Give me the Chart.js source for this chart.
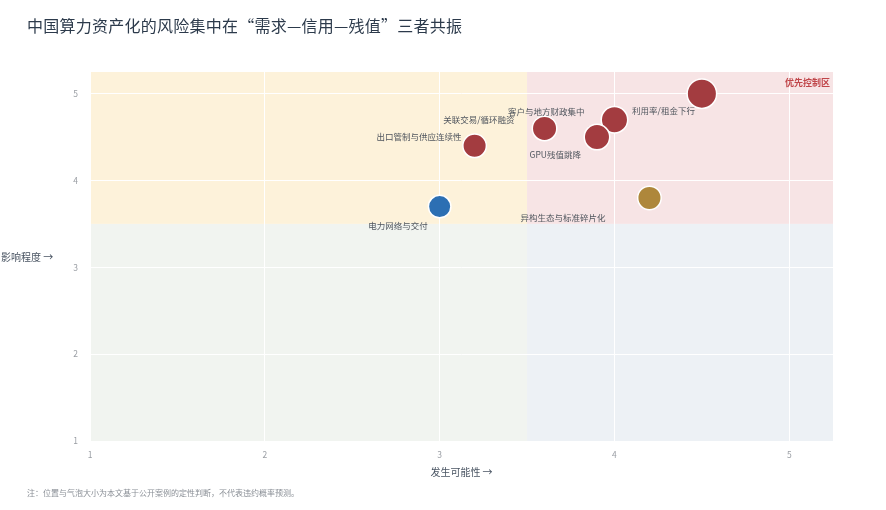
<!DOCTYPE html>
<html>
<head>
<meta charset="utf-8">
<script src="https://cdn.jsdelivr.net/npm/chart.js@4.4.1/dist/chart.umd.min.js"></script>
<style>
    body { margin: 0; background: #fff; font-family: "Noto Sans CJK SC", "Noto Sans", sans-serif; }
    #wrap { position: relative; width: 886px; height: 510px; }
    #title { position: absolute; left: 27px; top: 17px; font-size: 16px; line-height: 1; color: #2c3a4b; font-weight: 400; letter-spacing: 0.25px; }
    #note { position: absolute; left: 27px; top: 489px; font-size: 8px; line-height: 1; color: #8a8f96; }
    canvas { position: absolute; left: 0; top: 0; }
</style>
</head>
<body>
<div id="wrap">
    <canvas id="risk-chart" width="886" height="510"></canvas>
    <div id="title">中国算力资产化的风险集中在“需求—信用—残值”三者共振</div>
    <div id="note">注：位置与气泡大小为本文基于公开案例的定性判断，不代表违约概率预测。</div>
</div>
<script>
// ===================== DATA =====================

const riskNames  = ['利用率/租金下行', '客户与地方财政集中', '关联交易/循环融资', 'GPU残值跳降',
                    '出口管制与供应连续性', '异构生态与标准碎片化', '电力网络与交付'];
const likelihood = [4.5, 4.0, 3.6, 3.9, 3.2, 4.2, 3.0];
const impact     = [5.0, 4.7, 4.6, 4.5, 4.4, 3.8, 3.7];
const bubbleSize = [31, 28, 26, 27, 25, 25, 24];
const riskGroup  = ['core', 'core', 'core', 'core', 'core', 'tech', 'infra'];
const axisTicks  = [1, 2, 3, 4, 5];
const threshold  = 3.5;
const zoneLabel  = '优先控制区';
const xTitle     = '发生可能性 →';
const yTitle     = '影响程度 →';

// ===================== STYLE =====================

const FONT = '"Noto Sans CJK SC", "Noto Sans", sans-serif';
const groupColor = { core: '#a33c40', tech: '#ae873b', infra: '#2c6fb3' };
// label text: right edge offset and vertical offset from bubble centre (px)
const labelPlace = [[-7, 17], [-30, -8], [-30, -9], [-16, 18], [-13, -9], [-44, 20], [-12, 19]];

const quadrantPlugin = {
    id: 'quadrants',
    beforeDraw(chart) {
        const { ctx, chartArea: a, scales: { x, y } } = chart;
        const mx = x.getPixelForValue(threshold);
        const my = y.getPixelForValue(threshold);
        ctx.save();
        ctx.fillStyle = '#fdf2da'; ctx.fillRect(a.left, a.top, mx - a.left, my - a.top);
        ctx.fillStyle = '#f7e4e5'; ctx.fillRect(mx, a.top, a.right - mx, my - a.top);
        ctx.fillStyle = '#f1f4f0'; ctx.fillRect(a.left, my, mx - a.left, a.bottom - my);
        ctx.fillStyle = '#edf1f5'; ctx.fillRect(mx, my, a.right - mx, a.bottom - my);
        ctx.restore();
    },
    afterDatasetsDraw(chart) {
        const { ctx, chartArea: a } = chart;
        const meta = chart.getDatasetMeta(0);
        ctx.save();
        ctx.textBaseline = 'middle';

        // bubble labels
        ctx.font = '8.5px ' + FONT;
        ctx.fillStyle = '#50565e';
        ctx.textAlign = 'right';
        meta.data.forEach((pt, i) => {
            const [dx, dy] = labelPlace[i];
            ctx.fillText(riskNames[i], pt.x + dx, pt.y + dy);
        });

        // zone label
        ctx.font = 'bold 9px ' + FONT;
        ctx.fillStyle = '#c0464a';
        ctx.fillText(zoneLabel, a.right - 3, a.top + 11);

        // axis titles
        ctx.font = '10px ' + FONT;
        ctx.fillStyle = '#4a5563';
        ctx.textAlign = 'center';
        ctx.fillText(xTitle, (a.left + a.right) / 2, 472);
        ctx.textAlign = 'left';
        ctx.fillText(yTitle, 1, 257);
        ctx.restore();
    }
};

// ===================== CHART =====================

const points = likelihood.map((v, i) => ({ x: v, y: impact[i], r: bubbleSize[i] / 2 - 0.75 }));

const tickOpts = (pad) => ({
    stepSize: 1,
    includeBounds: false,
    padding: pad,
    color: '#9a9ea4',
    font: { size: 8.5, family: FONT },
    callback: v => axisTicks.includes(v) ? v : ''
});

new Chart(document.getElementById('risk-chart'), {
    type: 'bubble',
    data: {
        datasets: [{
            data: points,
            backgroundColor: riskGroup.map(g => groupColor[g]),
            borderColor: '#ffffff',
            borderWidth: 1.5,
            clip: false
        }]
    },
    options: {
        responsive: false,
        animation: false,
        layout: { padding: { top: 72, right: 53, left: 0, bottom: 0 } },
        plugins: { legend: { display: false }, tooltip: { enabled: false } },
        scales: {
            x: {
                type: 'linear', min: 1, max: 5.25,
                afterFit: s => { s.height = 69; },
                grid: { color: '#ffffff', lineWidth: 1, drawTicks: false },
                border: { display: false },
                ticks: tickOpts(9)
            },
            y: {
                type: 'linear', min: 1, max: 5.25,
                afterFit: s => { s.width = 90; },
                grid: { color: '#ffffff', lineWidth: 1, drawTicks: false },
                border: { display: false },
                ticks: tickOpts(12)
            }
        }
    },
    plugins: [quadrantPlugin]
});
</script>
</body>
</html>
